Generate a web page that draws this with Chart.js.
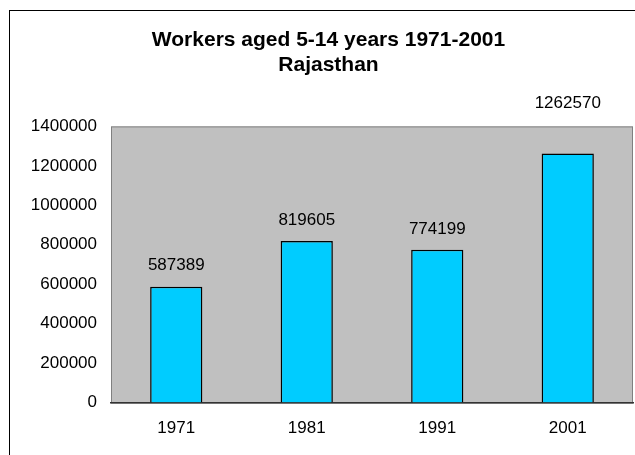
<!DOCTYPE html>
<html>
<head>
<meta charset="utf-8">
<title>Workers aged 5-14 years 1971-2001 Rajasthan</title>
<script src="https://cdn.jsdelivr.net/npm/chart.js@4/dist/chart.umd.min.js"></script>
<style>
  body { margin: 0; background: #fff; }
  canvas { display: block; }
</style>
</head>
<body>
<canvas id="grafico" width="635" height="455"></canvas>
<script>
// datos
const anios = ['1971', '1981', '1991', '2001'];
const trabajadores = [587389, 819605, 774199, 1262570];
const marcasY = [0, 200000, 400000, 600000, 800000, 1000000, 1200000, 1400000];
const titulo = ['Workers aged 5-14 years 1971-2001', 'Rajasthan'];

const fuente = '"Liberation Sans", Arial, Helvetica, sans-serif';

// marco exterior y fondo gris del área de trazado
const fondoPlot = {
  id: 'fondoPlot',
  beforeDraw(chart) {
    const ctx = chart.ctx;
    const a = chart.chartArea;
    ctx.save();
    ctx.strokeStyle = '#000';
    ctx.lineWidth = 1;
    ctx.strokeRect(9.5, 10.5, 700, 500);
    ctx.fillStyle = '#C0C0C0';
    ctx.fillRect(a.left, a.top, a.right - a.left, a.bottom - a.top);
    ctx.strokeStyle = '#808080';
    ctx.strokeRect(a.left + 0.5, a.top + 0.5, a.right - a.left - 1, a.bottom - a.top);
    ctx.restore();
  }
};

// etiquetas de valor encima de cada barra
const etiquetas = {
  id: 'etiquetas',
  afterDatasetsDraw(chart) {
    const ctx = chart.ctx;
    const meta = chart.getDatasetMeta(0);
    ctx.save();
    ctx.font = '17px ' + fuente;
    ctx.fillStyle = '#000';
    ctx.textAlign = 'center';
    ctx.textBaseline = 'middle';
    meta.data.forEach((barra, i) => {
      const subir = i === meta.data.length - 1 ? 50 : 21; // la última va más arriba, como en el original
      ctx.fillText(String(chart.data.datasets[0].data[i]), barra.x, barra.y - subir);
    });
    ctx.restore();
  }
};

const ctx = document.getElementById('grafico').getContext('2d');
new Chart(ctx, {
  type: 'bar',
  data: {
    labels: anios,
    datasets: [{
      data: trabajadores,
      backgroundColor: '#00CCFF',
      borderColor: '#000',
      borderWidth: 1.5,
      barPercentage: 0.4,
      categoryPercentage: 1.0
    }]
  },
  options: {
    responsive: false,
    animation: false,
    devicePixelRatio: 1,
    layout: { padding: { left: 24, right: 2, top: 0, bottom: 0 } },
    plugins: {
      legend: { display: false },
      tooltip: { enabled: false },
      title: {
        display: true,
        text: titulo,
        color: '#000',
        font: { family: fuente, size: 21, weight: 'bold', lineHeight: 1.2 },
        padding: { top: 27.5, bottom: 48.5 }
      }
    },
    scales: {
      x: {
        grid: { display: false, drawTicks: false },
        border: { display: true, color: '#333', width: 1.5 },
        ticks: { color: '#000', font: { family: fuente, size: 17 }, padding: 16 }
      },
      y: {
        min: 0,
        max: 1400000,
        afterBuildTicks(scale) {
          scale.ticks = marcasY.map(v => ({ value: v }));
        },
        afterFit(scale) { scale.width = 87; },
        grid: { display: false, drawTicks: false },
        border: { display: false },
        ticks: {
          color: '#000',
          font: { family: fuente, size: 17 },
          padding: 14,
          callback: v => String(v)
        }
      }
    }
  },
  plugins: [fondoPlot, etiquetas]
});
</script>
</body>
</html>
